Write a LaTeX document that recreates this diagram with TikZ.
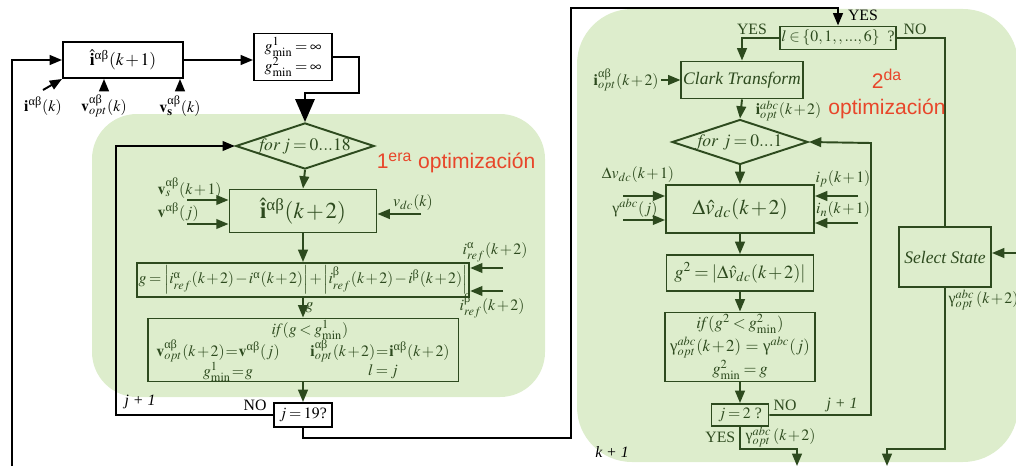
\documentclass[tikz,border=0pt]{standalone}
\usepackage{amsmath}
\usepackage{mathptmx}
\usepackage[no-math]{fontspec}
\setmainfont{Liberation Serif}
\newfontfamily\redsans{Liberation Sans}
\usetikzlibrary{positioning,arrows.meta,shapes.geometric}
\definecolor{panel}{HTML}{DDEDCC}
\definecolor{dkgreen}{HTML}{2D4A1E}
\definecolor{accent}{HTML}{E8462A}
\newcommand{\ab}{\text{\normalfont αβ}}
\newcommand{\ual}{\text{\normalfont α}}
\newcommand{\ube}{\text{\normalfont β}}
\newcommand{\gm}{\text{\normalfont γ}}

\begin{document}
\thickmuskip=3mu plus 2mu
\medmuskip=1.5mu plus 1mu
\begin{tikzpicture}[x=0.02cm,y=-0.02cm,line width=1.1pt,
    every node/.style={font=\fontsize{9}{11}\selectfont},
    outbox/.style={draw=black,fill=white,inner sep=1pt},
    inbox/.style={draw=dkgreen,text=dkgreen,inner sep=1pt},
    loopdia/.style={diamond,aspect=3,draw=dkgreen,text=dkgreen,inner sep=0pt,minimum width=2.72cm,minimum height=0.9cm,font=\fontsize{10}{12}\selectfont},
    lbl/.style={text=dkgreen,inner sep=1pt},
    arr/.style={-{Triangle[length=7pt,width=5.5pt]}},
    bigarr/.style={-{Triangle[length=13pt,width=11pt]}},
    optlbl/.style={text=accent,font=\redsans\fontsize{12}{15}\selectfont,align=center}]
  \useasboundingbox (0,0) rectangle (1016,466);
  % optimization regions
  \fill[panel,rounded corners=0.9cm] (92,114) rectangle (545,397);
  \fill[panel,rounded corners=1.1cm] (577,9) rectangle (1018,462);

  % prediction k+1
  \node[outbox,minimum width=2.4cm,minimum height=0.72cm,font=\fontsize{10}{12}\selectfont] (ipred1) at (123,60) {$\hat{\mathbf{i}}^{\ab}(k+1)$};
  \node[outbox,minimum width=1.56cm,minimum height=0.94cm,align=center] (gini) at (293,57) {$g^{1}_{\min}=\infty$\\$g^{2}_{\min}=\infty$};
  \draw[arr] (ipred1.east) -- (ipred1.east -| gini.west);
  \node (ik) at (43,106) {$\mathbf{i}^{\ab}(k)$};
  \node (vopt) at (104,106) {$\mathbf{v}^{\ab}_{opt}(k)$};
  \node (vs) at (180,106) {$\mathbf{v}^{\ab}_{\mathbf{s}}(k)$};
  \draw[arr] (ik.north) -- (ipred1.south west);
  \draw[arr] (vopt.north) -- (vopt.north |- ipred1.south);
  \draw[arr] (vs.north) -- (vs.north |- ipred1.south);
  \coordinate (kin) at (12,466);
  \draw[arr] (kin) |- (ipred1.west);

  % first optimization
  \node[loopdia] (for1) at (305,146) {$\mathit{for}\,j=0...18$};
  \coordinate (turn1) at (305,93);
  \draw[bigarr] (gini.east) -- ++(26,0) |- (turn1) -- (for1.north);
  \node[optlbl] (opt1) at (456,163) {1\textsuperscript{era} optimización};
  \node[inbox,minimum width=2.94cm,minimum height=0.86cm,font=\fontsize{13}{15}\selectfont] (ipred2) at (303,211) {$\hat{\mathbf{i}}^{\ab}(k+2)$};
  \node[lbl,anchor=west] (vs1) at (155,188) {$\mathbf{v}^{\ab}_{s}(k+1)$};
  \node[lbl,anchor=west] (vj) at (155,212) {$\mathbf{v}^{\ab}(j)$};
  \node[lbl] (vdc) at (413,203) {$v_{dc}(k)$};
  \coordinate (vs1in) at (187,200);
  \coordinate (vjin) at (187,224);
  \coordinate (vdcin) at (421,214);
  \draw[arr,dkgreen] (vs1in) -- (vs1in -| ipred2.west);
  \draw[arr,dkgreen] (vjin) -- (vjin -| ipred2.west);
  \draw[arr,dkgreen] (vdcin) -- (vdcin -| ipred2.east);
  \draw[arr,dkgreen] (for1.south) -- (ipred2.north);

  \node[inbox,minimum width=6.24cm,minimum height=0.68cm] (cost1) at (303,280) {$g=\left|i^{\ual}_{ref}(k+2)-i^{\ual}(k+2)\right|+\left|i^{\ube}_{ref}(k+2)-i^{\ube}(k+2)\right|$};
  \node[lbl] (irefa) at (495,252) {$i^{\ual}_{ref}(k+2)$};
  \node[lbl] (irefb) at (492,306) {$i^{\ube}_{ref}(k+2)$};
  \coordinate (irefain) at (503,268);
  \coordinate (irefbin) at (503,291);
  \draw[arr,dkgreen] (irefain) -- (irefain -| cost1.east);
  \draw[arr,dkgreen] (irefbin) -- (irefbin -| cost1.east);
  \draw[arr,dkgreen] (ipred2.south) -- (cost1.north);

  \node[inbox,minimum width=6.22cm,minimum height=1.26cm] (cmp1) at (303,350) {};
  \node[lbl] (cnd1) at (310,330) {$\mathit{if}(g<g^{1}_{\min})$};
  \node[lbl] (vset) at (218,351) {$\mathbf{v}^{\ab}_{opt}(k+2)\!=\!\mathbf{v}^{\ab}(j)$};
  \node[lbl] (iset) at (380,351) {$\mathbf{i}^{\ab}_{opt}(k+2)\!=\!\mathbf{i}^{\ab}(k+2)$};
  \node[lbl] (gset1) at (228,372) {$g^{1}_{\min}\!=\!g$};
  \node[lbl] (lset) at (383,372) {$l=j$};
  \draw[arr,dkgreen] (cost1.south) -- node[lbl,right]{$g$} (cmp1.north);

  \node[outbox,minimum width=1.16cm,minimum height=0.48cm] (stop1) at (303,415) {$j=19$?};
  \draw[arr,dkgreen] (cmp1.south) -- (stop1.north);
  \coordinate (back1) at (116,146);
  \draw[arr] (stop1.west) -| (back1) -- (for1.west);
  \node (no1) at (255,405) {NO};
  \node (jinc1) at (140,402) {\textit{j + 1}};

  % second optimization
  \node[inbox,minimum width=2.2cm,minimum height=0.46cm] (sel) at (838,38) {$l\in\{0,1,,...,6\}$\ \ ?};
  \coordinate (jump) at (571,8);
  \draw[arr] (stop1.south) -- ++(0,10) -| (jump) -| (sel.north);
  \node (yes0) at (863,15) {YES};
  \node[inbox,minimum width=2.4cm,minimum height=0.74cm,font=\fontsize{10}{12}\selectfont] (clark) at (742,80) {\textit{Clark Transform}};
  \node[inbox,minimum width=1.84cm,minimum height=1.2cm,font=\fontsize{10}{12}\selectfont] (state) at (945,257) {\textit{Select State}};
  \draw[arr,dkgreen] (sel.west) -| (clark.north);
  \draw[dkgreen] (sel.east) -| (state.north);
  \node[lbl] (yes1) at (752,29) {YES};
  \node[lbl] (no2) at (915,29) {NO};
  \node[lbl,anchor=west] (iopt) at (591,80) {$\mathbf{i}^{\ab}_{opt}(k+2)$};
  \draw[arr,dkgreen] (iopt.east) -- (clark.west);
  \node[optlbl] (opt2) at (887,94) {2\textsuperscript{da}\\optimización};

  \node[loopdia] (for2) at (740,142) {$\mathit{for}\ j=0...1$};
  \draw[arr,dkgreen] (clark.south) -- node[lbl,right,pos=0.6,xshift=7pt]{$\mathbf{i}^{abc}_{opt}(k+2)$} (for2.north);
  \node[inbox,minimum width=2.96cm,minimum height=0.96cm,font=\fontsize{12}{14}\selectfont] (dv) at (740,209) {$\Delta\hat{v}_{dc}(k+2)$};
  \draw[arr,dkgreen] (for2.south) -- (dv.north);
  \node[lbl] (dvin) at (638,175) {$\Delta v_{dc}(k+1)$};
  \node[lbl] (gjin) at (635,208) {$\gm^{abc}(j)$};
  \node[lbl] (ipin) at (843,179) {$i_{p}(k+1)$};
  \node[lbl] (inin) at (843,210) {$i_{n}(k+1)$};
  \coordinate (dvinpt) at (623,196);
  \coordinate (gjinpt) at (623,220);
  \coordinate (ipinpt) at (858,196);
  \coordinate (ininpt) at (858,223);
  \draw[arr,dkgreen] (dvinpt) -- (dvinpt -| dv.west);
  \draw[arr,dkgreen] (gjinpt) -- (gjinpt -| dv.west);
  \draw[arr,dkgreen] (ipinpt) -- (ipinpt -| dv.east);
  \draw[arr,dkgreen] (ininpt) -- (ininpt -| dv.east);

  \node[inbox,minimum width=2.94cm,minimum height=0.72cm,font=\fontsize{10.5}{12}\selectfont] (cost2) at (740,273) {$g^{2}=\left|\Delta\hat{v}_{dc}(k+2)\right|$};
  \draw[arr,dkgreen] (dv.south) -- (cost2.north);
  \node[inbox,minimum width=3cm,minimum height=1.38cm,align=center,font=\fontsize{9.5}{13}\selectfont] (cmp2) at (740,347) {$\mathit{if}(g^{2}<g^{2}_{\min})$\\$\gm^{abc}_{opt}(k+2)\,=\,\gm^{abc}(j)$\\$g^{2}_{\min}=g$};
  \draw[arr,dkgreen] (cost2.south) -- (cmp2.north);
  \node[inbox,minimum width=1.14cm,minimum height=0.44cm] (stop2) at (740,415) {$j=2$ ?};
  \draw[arr,dkgreen] (cmp2.south) -- (stop2.north);
  \coordinate (back2) at (871,143);
  \draw[arr,dkgreen] (stop2.east) -| (back2) -- (for2.east);
  \node[lbl] (no3) at (785,405) {NO};
  \node[lbl] (jinc2) at (842,405) {\textit{j + 1}};
  \coordinate (out2) at (797,466);
  \draw[arr,dkgreen] (stop2.south) -- ++(0,22) -| (out2);
  \node[lbl,anchor=east] (yes2) at (738,437) {YES};
  \node[lbl,anchor=west] (gopt1) at (743,437) {$\gm^{abc}_{opt}\,(k+2)$};

  \coordinate (stin) at (1016,253);
  \draw[arr,dkgreen] (stin) -- (stin -| state.east);
  \coordinate (out3) at (887,466);
  \draw[arr,dkgreen] (state.south) -- ++(0,161) -| (out3);
  \node[lbl,anchor=west] (gopt2) at (946,300) {$\gm^{abc}_{opt}\,(k+2)$};
  \node (kinc) at (612,452) {\textit{k + 1}};
\end{tikzpicture}
\end{document}
